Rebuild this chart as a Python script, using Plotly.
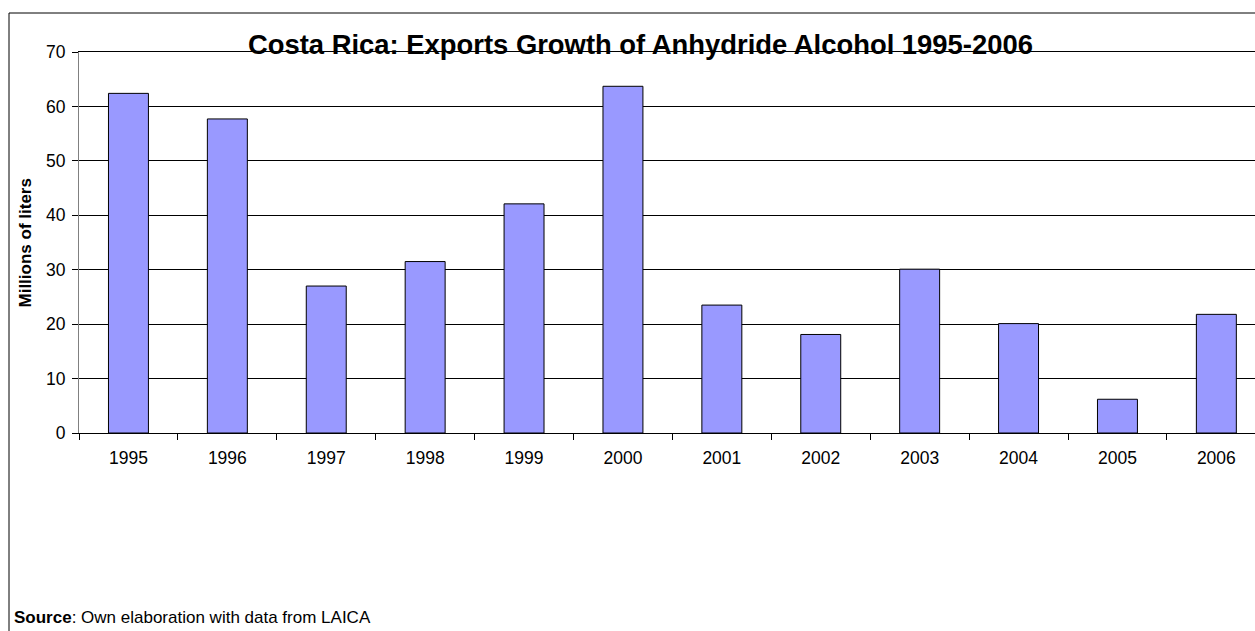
import plotly.graph_objects as go

# Anhydride alcohol exports, millions of liters
years = ["1995", "1996", "1997", "1998", "1999", "2000",
         "2001", "2002", "2003", "2004", "2005", "2006"]
exports = [62.4, 57.7, 27.0, 31.5, 42.1, 63.7, 23.5, 18.1, 30.1, 20.1, 6.2, 21.8]
y_ticks = [0, 10, 20, 30, 40, 50, 60, 70]

W, H = 1255, 631
ML, MR, MT, MB = 79, 0, 52, 198
PW, PH = W - ML - MR, H - MT - MB
CAT_PX = 98.9  # width of one category slot


def px_x(x):
    return (x - ML) / PW


def px_y(y):
    return (H - MB - y) / PH


FONT = "Liberation Sans, Arial, sans-serif"

fig = go.Figure(
    go.Bar(
        x=years,
        y=exports,
        marker=dict(color="#9999FF", line=dict(color="#000000", width=1)),
        hoverinfo="x+y",
    )
)

x_max = -0.5 + PW / CAT_PX

fig.update_layout(
    width=W,
    height=H,
    margin=dict(l=ML, r=MR, t=MT, b=MB, pad=0),
    paper_bgcolor="white",
    plot_bgcolor="white",
    bargap=0.596,
    showlegend=False,
    font=dict(family=FONT, color="black"),
    xaxis=dict(
        type="category",
        range=[-0.5, x_max],
        tickson="boundaries",
        ticks="outside",
        ticklen=6,
        tickcolor="black",
        showline=True,
        mirror=True,  # top edge doubles as the 70 gridline
        linecolor="black",
        linewidth=1,
        showgrid=False,
        tickfont=dict(size=17.5, family=FONT, color="black"),
        ticklabelstandoff=9,
    ),
    yaxis=dict(
        range=[0, 70],
        tickvals=y_ticks,
        ticks="outside",
        ticklen=6,
        tickcolor="black",
        showline=True,
        linecolor="#808080",
        linewidth=1,
        showgrid=True,
        gridcolor="black",
        gridwidth=1,
        zeroline=False,
        tickfont=dict(size=17.5, family=FONT, color="black"),
        ticklabelstandoff=3,
    ),
    shapes=[
        dict(
            type="rect", xref="paper", yref="paper",
            x0=px_x(9), x1=px_x(W + 20), y0=px_y(H + 20), y1=px_y(13),
            line=dict(color="black", width=1), layer="below",
        )
    ],
    annotations=[
        dict(
            text="<b>Costa Rica: Exports Growth of Anhydride Alcohol 1995-2006</b>",
            xref="paper", yref="paper", x=px_x(640.5), y=px_y(45),
            xanchor="center", yanchor="middle", showarrow=False,
            font=dict(size=27.4, family=FONT, color="black"),
        ),
        dict(
            text="<b>Millions of liters</b>",
            xref="paper", yref="paper", x=px_x(25), y=px_y(243.5),
            xanchor="center", yanchor="middle", textangle=-90, showarrow=False,
            font=dict(size=17, family=FONT, color="black"),
        ),
        dict(
            text="<b>Source</b>: Own elaboration with data from LAICA",
            xref="paper", yref="paper", x=px_x(12), y=px_y(617.5),
            xanchor="left", yanchor="middle", showarrow=False,
            font=dict(size=17, family=FONT, color="black"),
        ),
    ],
)

fig.write_html("out.html")
